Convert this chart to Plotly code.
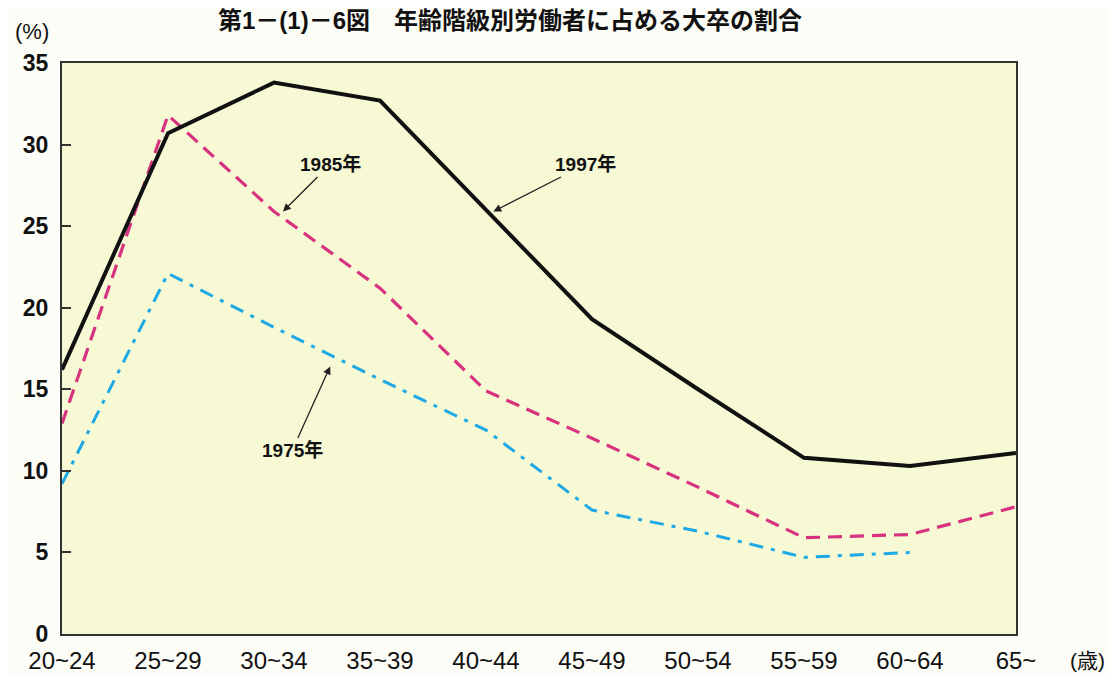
import plotly.graph_objects as go

age_groups = ["20~24", "25~29", "30~34", "35~39", "40~44",
              "45~49", "50~54", "55~59", "60~64", "65~"]
share_1997 = [16.2, 30.7, 33.8, 32.7, 26.0, 19.3, 15.0, 10.8, 10.3, 11.1]
share_1985 = [12.9, 31.8, 25.9, 21.2, 14.9, 12.0, 9.0, 5.9, 6.1, 7.8]
share_1975 = [9.2, 22.1, 18.8, 15.6, 12.5, 7.6, 6.3, 4.7, 5.0, None]
y_ticks = [0, 5, 10, 15, 20, 25, 30, 35]

xpos = list(range(len(age_groups)))

fig = go.Figure()
fig.add_trace(go.Scatter(x=xpos, y=share_1975, mode="lines", name="1975年",
                         line=dict(color="#1fa8e6", width=3, dash="14px,8px,4px,8px"),
                         connectgaps=False))
fig.add_trace(go.Scatter(x=xpos, y=share_1985, mode="lines", name="1985年",
                         line=dict(color="#d8317f", width=3.2, dash="14px,8px")))
fig.add_trace(go.Scatter(x=xpos, y=share_1997, mode="lines", name="1997年",
                         line=dict(color="#111111", width=4)))

font_main = "Liberation Sans, Arial, Noto Sans CJK JP, sans-serif"
font_cjk = "Liberation Sans, Noto Sans CJK JP, sans-serif"

# page body has an 8px margin; figure is sized so absolute positions match
W, H = 1109, 667
L, T, R, B = 54, 55, 101, 41
PW, PH = W - L - R, H - T - B

fig.update_layout(
    width=W, height=H,
    margin=dict(l=L, r=R, t=T, b=B, autoexpand=False),
    paper_bgcolor="#fdfdf8",
    plot_bgcolor="#f6f9d3",
    showlegend=False,
    xaxis=dict(range=[0, 9], tickmode="array", tickvals=xpos, ticktext=age_groups,
               showgrid=False, zeroline=False, showline=True, linecolor="#333333",
               linewidth=2, mirror=True, ticks="", automargin=False,
               ticklabelstandoff=4,
               tickfont=dict(family=font_main, size=24, color="#111111")),
    yaxis=dict(range=[0, 35], tickmode="array", tickvals=y_ticks,
               showgrid=False, zeroline=False, showline=True, linecolor="#333333",
               linewidth=2, mirror=True, ticks="inside", ticklen=9, tickwidth=2,
               tickcolor="#333333", ticklabelstandoff=7, automargin=False,
               tickfont=dict(family=font_main, size=23, color="#111111", weight="bold")),
)

annos = [
    dict(x=2.085, y=25.9, text="1985年", ax=47, ay=-47),
    dict(x=4.07, y=25.9, text="1997年", ax=92, ay=-47),
    dict(x=2.53, y=16.4, text="1975年", ax=-38, ay=84),
]
for a in annos:
    fig.add_annotation(x=a["x"], y=a["y"], xref="x", yref="y", text=a["text"],
                       showarrow=True, ax=a["ax"], ay=a["ay"], arrowhead=2,
                       arrowsize=1.2, arrowwidth=1.3, arrowcolor="#222222",
                       font=dict(family=font_cjk, size=19, color="#111111", weight="bold"))


def px_x(x_abs):
    return (x_abs - 8 - L) / PW


def px_y(y_abs):
    return 1 - (y_abs - 8 - T) / PH


fig.add_annotation(x=px_x(32), y=px_y(31), xref="paper", yref="paper",
                   text="(%)", showarrow=False, xanchor="center", yanchor="middle",
                   font=dict(family=font_main, size=22, color="#111111"))
fig.add_annotation(x=px_x(1087), y=px_y(660), xref="paper", yref="paper",
                   text="(歳)", showarrow=False, xanchor="center", yanchor="middle",
                   font=dict(family=font_cjk, size=21, color="#111111"))
fig.add_annotation(x=px_x(510), y=px_y(21), xref="paper", yref="paper",
                   text="第1－(1)－6図　年齢階級別労働者に占める大卒の割合",
                   showarrow=False, xanchor="center", yanchor="middle",
                   font=dict(family=font_cjk, size=24, color="#111111", weight="bold"))

fig.write_html("out.html")
